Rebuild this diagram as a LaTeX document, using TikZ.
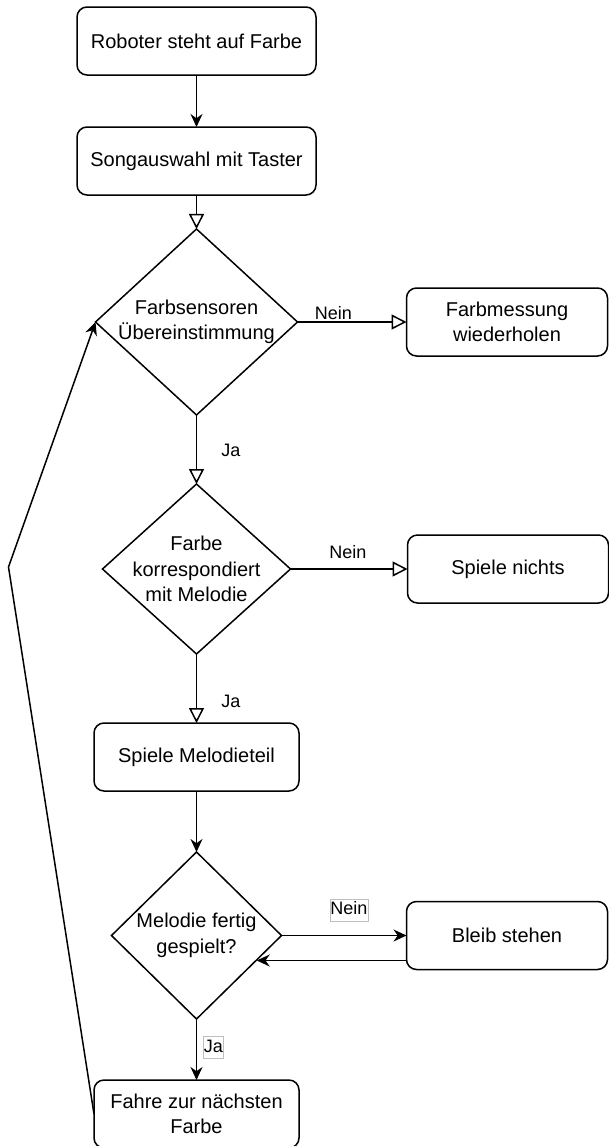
\documentclass[tikz,border=0pt]{standalone}
\usepackage{fontspec}
\setmainfont{Liberation Sans}
\usetikzlibrary{positioning,shapes.geometric,arrows.meta}
\newcommand{\boxfont}{\fontsize{20}{25.5}\selectfont}
\newcommand{\lblfont}{\fontsize{18}{21}\selectfont}

\begin{document}
\begin{tikzpicture}[x=1pt, y=1pt, line width=1.5pt,
    box/.style={draw, rounded corners=10pt, minimum height=68pt, outer sep=0pt, align=center, font=\boxfont},
    decision/.style={draw, diamond, aspect=1, inner sep=-10pt, outer sep=0pt, align=center, font=\boxfont},
    lbl/.style={font=\lblfont, inner sep=1pt},
    lblbox/.style={lbl, draw=black!25, line width=0.7pt, inner xsep=0.5pt, inner ysep=2.5pt, text height=13pt, text depth=4pt},
    flow/.style={-{Stealth[length=13pt, width=12pt]}},
    hollow/.style={-{Triangle[open, length=15pt, width=15pt]}}]
  \useasboundingbox (0,0) rectangle (608,-1146);

  % main column
  \node[box, minimum width=239pt] (start) at (196.5,-41) {Roboter steht auf Farbe};
  \node[box, minimum width=239pt, below=52pt of start] (song) {Songauswahl mit Taster};
  \node[decision, minimum width=202pt, minimum height=186pt, below=34pt of song] (match) {Farbsensoren\\Übereinstimmung};
  \node[decision, minimum width=188pt, minimum height=170pt, below=69pt of match] (melody) {Farbe\\korrespondiert\\mit Melodie};
  \node[box, minimum width=205pt, below=69pt of melody] (play) {Spiele Melodieteil};
  \node[decision, minimum width=170pt, minimum height=167pt, below=61pt of play] (done) {Melodie fertig\\gespielt?};
  \node[box, minimum width=205pt, below=61pt of done] (drive) {Fahre zur nächsten\\Farbe};

  % right column
  \node[box, minimum width=201pt, right=109pt of match] (measure) {Farbmessung\\wiederholen};
  \node[box, minimum width=201pt, right=117pt of melody] (silent) {Spiele nichts};
  \node[box, minimum width=201pt, right=125pt of done] (stay) {Bleib stehen};

  \coordinate (loop) at (8.5,-567);

  \draw[flow] (start) -- (song);
  \draw[hollow] (song) -- (match);
  \draw[hollow] (match) -- node[lbl, pos=0.33, above=1pt] (no1) {Nein} (measure);
  \draw[hollow] (match) -- node[lbl, pos=0.52, right=23pt] (yes1) {Ja} (melody);
  \draw[hollow] (melody) -- node[lbl, pos=0.49, above=8.5pt] (no2) {Nein} (silent);
  \draw[hollow] (melody) -- node[lbl, pos=0.68, right=23pt] (yes2) {Ja} (play);
  \draw[flow] (play) -- (done);
  \draw[flow] (done) -- node[lblbox, pos=0.54, above=14pt] (no3) {Nein} (stay);
  \draw[flow] ([yshift=-25pt]stay.west) -- ([yshift=-25pt]stay.west -| done.-22.8);
  \draw[flow] (done) -- node[lblbox, pos=0.47, right=6.5pt] (yes3) {Ja} (drive);
  \draw[flow] (drive.west) -- (loop) -- (match.west);
\end{tikzpicture}
\end{document}
